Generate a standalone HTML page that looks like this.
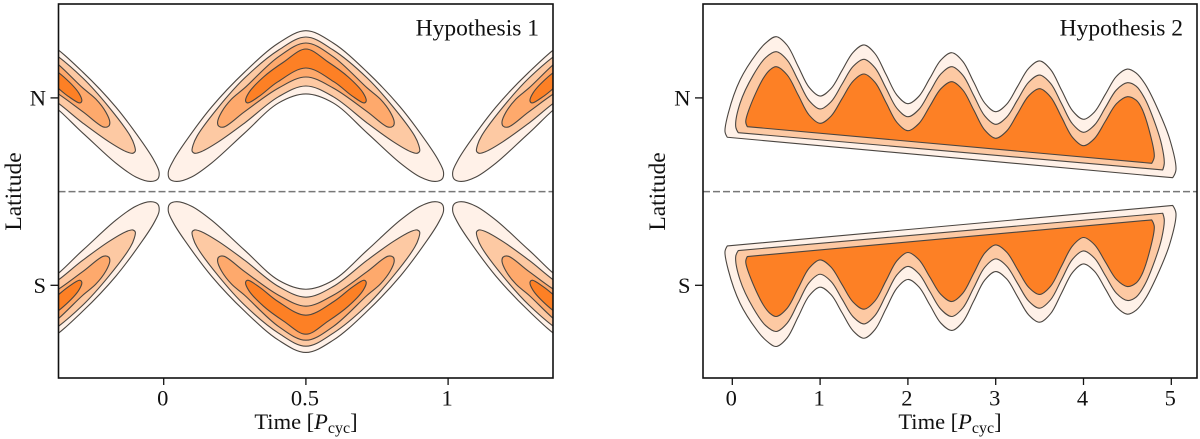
<!DOCTYPE html>
<html>
<head>
<meta charset="utf-8">
<title>Hypothesis charts</title>
<style>
html,body{margin:0;padding:0;background:#fff;width:1200px;height:439px;overflow:hidden}
svg{display:block}
text{font-family:"Liberation Serif",serif;fill:#111;font-size:22.5px}
</style>
</head>
<body>
<svg id="fig" width="1200" height="439" viewBox="0 0 1200 439" xmlns="http://www.w3.org/2000/svg">
<defs>
<clipPath id="clip-left"><rect x="58.5" y="4" width="494.5" height="374"/></clipPath>
<clipPath id="clip-right"><rect x="703" y="4" width="494" height="374"/></clipPath>
</defs>
<rect x="58.5" y="4" width="494.5" height="374" fill="#fff"/>
<rect x="703" y="4" width="494" height="374" fill="#fff"/>
<g id="left-marks" clip-path="url(#clip-left)"></g>
<g id="right-marks" clip-path="url(#clip-right)"></g>
<rect x="58.5" y="4" width="494.5" height="374" fill="none" stroke="#111" stroke-width="1.6"/>
<rect x="703" y="4" width="494" height="374" fill="none" stroke="#111" stroke-width="1.6"/>
<g id="left-axis"></g>
<g id="right-axis"></g>
<text x="539" y="35.5" text-anchor="end" style="font-size:23.5px">Hypothesis 1</text>
<text x="1183" y="35.5" text-anchor="end" style="font-size:23.5px">Hypothesis 2</text>
<text transform="translate(21,191.5) rotate(-90)" text-anchor="middle" style="font-size:23.5px">Latitude</text>
<text transform="translate(665,191.5) rotate(-90)" text-anchor="middle" style="font-size:23.5px">Latitude</text>
<text x="306" y="429" text-anchor="middle">Time [<tspan font-style="italic">P</tspan><tspan dy="4" style="font-size:16px">cyc</tspan><tspan dy="-4">]</tspan></text>
<text x="950" y="429" text-anchor="middle">Time [<tspan font-style="italic">P</tspan><tspan dy="4" style="font-size:16px">cyc</tspan><tspan dy="-4">]</tspan></text>
</svg>
<script>
// ---------- shared data ----------
const latTicks = [1, -1];
const latLabels = ['N', 'S'];
const levelColors = ['#fff1e8', '#fdc9a3', '#fea96c', '#fd8025'];
const equatorLat = [0];

// ---------- Hypothesis 1: half wing outline (time from wing centre, latitude) ----------
const wingCentres = [-0.5, 0.5, 1.5];
const h1TimeTicks = [0, 0.5, 1];
const h1TimeLabels = ['0', '0.5', '1'];
const wing1Dt = [0, 0.096, 0.2155, 0.3316, 0.4265, 0.4652, 0.4838, 0.479, 0.4546, 0.402, 0.3316, 0.2155, 0.096, 0];
const wing1Lat = [1.717, 1.586, 1.276, 0.903, 0.519, 0.337, 0.209, 0.134, 0.108, 0.156, 0.305, 0.625, 0.946, 1.042];
const wing2Dt = [0, 0.096, 0.2155, 0.307, 0.3826, 0.3966, 0.400, 0.391, 0.367, 0.307, 0.2155, 0.096, 0];
const wing2Lat = [1.650, 1.511, 1.212, 0.903, 0.593, 0.497, 0.431, 0.409, 0.428, 0.533, 0.732, 1.013, 1.127];
const wing3Dt = [0, 0.096, 0.2155, 0.2613, 0.2964, 0.3105, 0.307, 0.289, 0.2155, 0.096, 0];
const wing3Lat = [1.586, 1.44, 1.106, 0.988, 0.849, 0.743, 0.700, 0.689, 0.853, 1.106, 1.223];
const wing4Dt = [0, 0.078, 0.149, 0.2015, 0.212, 0.205, 0.163, 0.0995, 0];
const wing4Lat = [1.522, 1.383, 1.223, 1.052, 0.967, 0.946, 1.02, 1.17, 1.319];

// ---------- Hypothesis 2: band outline (time, latitude); the last point joins the first by a straight edge ----------
const h2TimeTicks = [0, 1, 2, 3, 4, 5];
const h2TimeLabels = ['0', '1', '2', '3', '4', '5'];
const band1Time = [-0.057,-0.083,-0.046,0.088,0.278,0.38,0.5,0.625,0.75,0.875,1,1.125,1.25,1.375,1.5,1.625,1.75,1.875,2,2.125,2.25,2.375,2.5,2.625,2.75,2.875,3,3.125,3.25,3.375,3.5,3.625,3.75,3.875,4,4.125,4.25,4.375,4.5,4.6,4.7,4.834,4.985,5.053,5.016];
const band1Lat = [0.580,0.639,0.836,1.191,1.476,1.585,1.653,1.561,1.337,1.112,1.020,1.100,1.293,1.485,1.565,1.473,1.252,1.030,0.938,1.017,1.210,1.403,1.482,1.390,1.168,0.945,0.853,0.932,1.124,1.315,1.394,1.303,1.083,0.863,0.772,0.850,1.040,1.230,1.308,1.265,1.150,0.906,0.551,0.231,0.148];
const band2Time = [0.068,0.039,0.088,0.239,0.38,0.5,0.625,0.75,0.875,1,1.125,1.25,1.375,1.5,1.625,1.75,1.875,2,2.125,2.25,2.375,2.5,2.625,2.75,2.875,3,3.125,3.25,3.375,3.5,3.625,3.75,3.875,4,4.125,4.25,4.375,4.5,4.6,4.7,4.815,4.89,4.920,4.902];
const band2Lat = [0.629,0.693,0.942,1.244,1.43,1.493,1.404,1.188,0.971,0.882,0.959,1.147,1.335,1.412,1.322,1.106,0.889,0.799,0.877,1.066,1.255,1.333,1.243,1.026,0.808,0.718,0.795,0.981,1.167,1.244,1.155,0.939,0.722,0.633,0.710,0.898,1.085,1.162,1.125,0.99,0.729,0.50,0.302,0.231];
const band3Time = [0.171,0.153,0.202,0.353,0.43,0.5,0.625,0.75,0.875,1,1.125,1.25,1.375,1.5,1.625,1.75,1.875,2,2.125,2.25,2.375,2.5,2.625,2.75,2.875,3,3.125,3.25,3.375,3.5,3.625,3.75,3.875,4,4.125,4.25,4.375,4.5,4.6,4.663,4.757,4.806,4.777];
const band3Lat = [0.693,0.746,0.906,1.209,1.30,1.333,1.245,1.031,0.817,0.729,0.806,0.992,1.178,1.255,1.167,0.952,0.738,0.650,0.726,0.912,1.097,1.173,1.085,0.871,0.657,0.569,0.646,0.833,1.021,1.098,1.010,0.794,0.579,0.490,0.566,0.752,0.937,1.013,0.975,0.889,0.622,0.372,0.302];

// ---------- axis functions ----------
function yLat(lat){ return 191.6 - lat * 93.7; }
function xLeft(t){ return 163.7 + t * 284.4; }
function xRight(t){ return 732.3 + t * 87.8; }

const NS = 'http://www.w3.org/2000/svg';
function mk(tag, attrs, parent){
  const e = document.createElementNS(NS, tag);
  for (const k in attrs) e.setAttribute(k, attrs[k]);
  parent.appendChild(e);
  return e;
}
function segLen(a, b){
  return Math.max(Math.sqrt(Math.hypot(a[0] - b[0], a[1] - b[1])), 0.001);
}
function ctrl(p0, p1, p2, d1, d2){
  const a = d1 * d1, b = d2 * d2, c = 2 * a + 3 * d1 * d2 + b, e = 3 * d1 * (d1 + d2);
  return [(a * p2[0] - b * p0[0] + c * p1[0]) / e, (a * p2[1] - b * p0[1] + c * p1[1]) / e];
}
function splinePath(pts, closedSmooth){
  const n = pts.length;
  let d = 'M' + pts[0][0].toFixed(2) + ' ' + pts[0][1].toFixed(2);
  const last = closedSmooth ? n : n - 1;
  for (let i = 0; i < last; i++){
    const p1 = pts[i], p2 = pts[(i + 1) % n];
    const p0 = closedSmooth ? pts[(i - 1 + n) % n] : pts[Math.max(i - 1, 0)];
    const p3 = closedSmooth ? pts[(i + 2) % n] : pts[Math.min(i + 2, n - 1)];
    const d2 = segLen(p1, p2);
    const c1 = p0 === p1 ? p1 : ctrl(p0, p1, p2, segLen(p0, p1), d2);
    const c2 = p3 === p2 ? p2 : ctrl(p3, p2, p1, segLen(p3, p2), d2);
    d += 'C' + c1[0].toFixed(2) + ' ' + c1[1].toFixed(2) + ' ' + c2[0].toFixed(2) + ' ' + c2[1].toFixed(2) + ' ' + p2[0].toFixed(2) + ' ' + p2[1].toFixed(2);
  }
  return d + 'Z';
}
function contour(parent, pts, color, name, closedSmooth){
  const p = mk('path', {d: splinePath(pts, closedSmooth), fill: color, stroke: '#4a4540', 'stroke-width': 1.1, 'stroke-linejoin': 'round'}, parent);
  
  
}
function equator(parent, x1, x2, name){
  const l = mk('line', {x1: x1, x2: x2, y1: yLat(equatorLat[0]), y2: yLat(equatorLat[0]), stroke: '#777', 'stroke-width': 1.5, 'stroke-dasharray': '7 3'}, parent);
  
  
}
function axisTicks(parent, xFn, frameLeft, ticks, labels, side){
  ticks.forEach(function(v, i){
    const x = xFn(v);
    const tick = mk('line', {x1: x, x2: x, y1: 378, y2: 385, stroke: '#111', 'stroke-width': 1.3}, parent);
    
    
    const label = mk('text', {x: x - 1, y: 405.5, 'text-anchor': 'middle'}, parent);
    label.textContent = labels[i];
    
    
  });
  latTicks.forEach(function(v, i){
    const y = yLat(v);
    const tick = mk('line', {x1: frameLeft - 8, x2: frameLeft, y1: y, y2: y, stroke: '#111', 'stroke-width': 1.3}, parent);
    
    
    const label = mk('text', {x: frameLeft - 12.5, y: y + 7.5, 'text-anchor': 'end'}, parent);
    label.textContent = latLabels[i];
    
    
  });
}

// ---------- Hypothesis 1 ----------
const leftMarks = document.getElementById('left-marks');
const wingLevels = [[wing1Dt, wing1Lat], [wing2Dt, wing2Lat], [wing3Dt, wing3Lat], [wing4Dt, wing4Lat]];
[1, -1].forEach(function(hemi){
  wingCentres.forEach(function(c){
    wingLevels.forEach(function(level, li){
      const dt = level[0], lat = level[1];
      const pts = [];
      for (let i = 0; i < dt.length; i++) pts.push([xLeft(c + dt[i]), yLat(hemi * lat[i])]);
      for (let i = dt.length - 2; i > 0; i--) pts.push([xLeft(c - dt[i]), yLat(hemi * lat[i])]);
      contour(leftMarks, pts, levelColors[li], 'butterfly-wing-level-' + (li + 1), true);
    });
  });
});
equator(leftMarks, 58.5, 553, 'left-equator-line');

// ---------- Hypothesis 2 ----------
const rightMarks = document.getElementById('right-marks');
const bandLevels = [[band1Time, band1Lat, levelColors[0]], [band2Time, band2Lat, levelColors[1]], [band3Time, band3Lat, levelColors[3]]];
[1, -1].forEach(function(hemi){
  bandLevels.forEach(function(level, li){
    const pts = level[0].map(function(t, i){ return [xRight(t), yLat(hemi * level[1][i])]; });
    contour(rightMarks, pts, level[2], 'activity-band-level-' + (li + 1), false);
  });
});
equator(rightMarks, 703, 1197, 'right-equator-line');

// ---------- axes ----------
axisTicks(document.getElementById('left-axis'), xLeft, 58.5, h1TimeTicks, h1TimeLabels, 'left');
axisTicks(document.getElementById('right-axis'), xRight, 703, h2TimeTicks, h2TimeLabels, 'right');
</script>
</body>
</html>
